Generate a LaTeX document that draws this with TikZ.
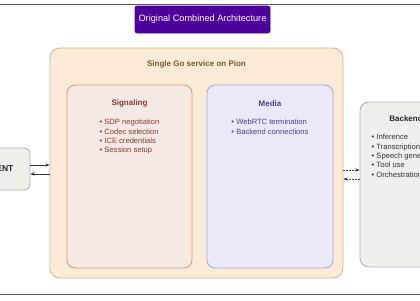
\documentclass[tikz,border=0pt]{standalone}
\usepackage{fontspec}
\setmainfont{Liberation Sans}
\usetikzlibrary{calc,arrows.meta}
\definecolor{ttlpurple}{HTML}{4C0099}
\definecolor{outerfill}{HTML}{FAEBD7}
\definecolor{outerdraw}{HTML}{D9B68E}
\definecolor{outertext}{HTML}{7A5A30}
\definecolor{sigfill}{HTML}{F8E8E3}
\definecolor{sigdraw}{HTML}{D6987E}
\definecolor{sigtext}{HTML}{7E3F30}
\definecolor{medfill}{HTML}{EBE8FA}
\definecolor{meddraw}{HTML}{ABA4E2}
\definecolor{medtext}{HTML}{4A3F96}
\definecolor{grayfill}{HTML}{F1EFEA}
\definecolor{graydraw}{HTML}{B3B3B3}
\definecolor{rulegray}{HTML}{5A5A5A}
\tikzset{
  boxbase/.style={rectangle, line width=0.9pt, inner sep=0pt},
  titlebox/.style={boxbase, fill=ttlpurple, draw=ttlpurple, rounded corners=2.5pt, text=white, font=\fontsize{9.2}{11}\selectfont},
  outerbox/.style={boxbase, fill=outerfill, draw=outerdraw, rounded corners=10pt},
  sigbox/.style={boxbase, fill=sigfill, draw=sigdraw, rounded corners=8pt},
  medbox/.style={boxbase, fill=medfill, draw=meddraw, rounded corners=8pt},
  graybox/.style={boxbase, fill=grayfill, draw=graydraw, rounded corners=9pt},
  headtext/.style={inner sep=0pt, font=\bfseries\fontsize{8}{9.6}\selectfont},
  listtext/.style={inner sep=0pt, align=left, anchor=north, font=\fontsize{7.6}{9.35}\selectfont},
  solidarr/.style={draw=black!80, line width=0.6pt, -{Stealth[length=4pt,width=3.5pt]}},
  dasharr/.style={draw=black!75, line width=0.6pt, dash pattern=on 1.6pt off 1.4pt, -{Stealth[length=4pt,width=3.5pt]}}
}
\begin{document}
\begin{tikzpicture}[x=1pt,y=-1pt]
\useasboundingbox (0,0) rectangle (420,300);
% horizontal rules
\draw[rulegray, line width=1pt] (0,4.5) -- (420,4.5);
\draw[rulegray, line width=1pt] (0,294) -- (420,294);
% title
\node[titlebox, minimum width=135pt, minimum height=27pt] (ttl) at (202.5,19.5) {Original Combined Architecture};
% outer box
\node[outerbox, minimum width=293pt, minimum height=230pt] (outer) at (196.5,163) {};
\node[headtext, text=outertext] (outert) at ($(outer.north)+(0,17)$) {Single Go service on Pion};
% signaling
\node[sigbox, minimum width=125pt, minimum height=183pt] (sig) at (129.5,176.5) {};
\node[headtext, text=sigtext] (sigt) at ($(sig.north)+(0,19)$) {Signaling};
\node[listtext, text=sigtext] (sigl) at ($(sig.north)+(0,34.5)$) {• SDP negotiation\\• Codec selection\\• ICE credentials\\• Session setup};
% media
\node[medbox, minimum width=126pt, minimum height=183pt] (med) at (270,176.5) {};
\node[headtext, text=medtext] (medt) at ($(med.north)+(0,19)$) {Media};
\node[listtext, text=medtext] (medl) at ($(med.north)+(0,34.5)$) {• WebRTC termination\\• Backend connections};
% client
\node[graybox, rounded corners=6pt, minimum width=64pt, minimum height=42pt] (client) at (-2,169) {};
\node[headtext, font=\bfseries\fontsize{8.5}{10}\selectfont, text=black!85] (clientt) at (client.center) {CLIENT};
% backend
\node[graybox, minimum width=92pt, minimum height=165pt] (back) at (406,184.5) {};
\node[headtext, text=black!85] (backt) at ($(back.north)+(0,17)$) {Backend};
\node[listtext, text=black!80] (backl) at ($(back.north)+(0,32.5)$) {• Inference\\• Transcription\\• Speech generation\\• Tool use\\• Orchestration};
% connectors
\draw[solidarr] ($(client.east)+(0,-4)$) -- ($(client.east -| outer.west)+(0,-4)$);
\draw[solidarr] ($(client.east -| outer.west)+(0,5)$) -- ($(client.east)+(0,5)$);
\draw[dasharr] ($(back.west -| outer.east)+(0,-14.5)$) -- ($(back.west)+(0,-14.5)$);
\draw[dasharr] ($(back.west)+(0,-5.5)$) -- ($(back.west -| outer.east)+(0,-5.5)$);
\end{tikzpicture}
\end{document}
